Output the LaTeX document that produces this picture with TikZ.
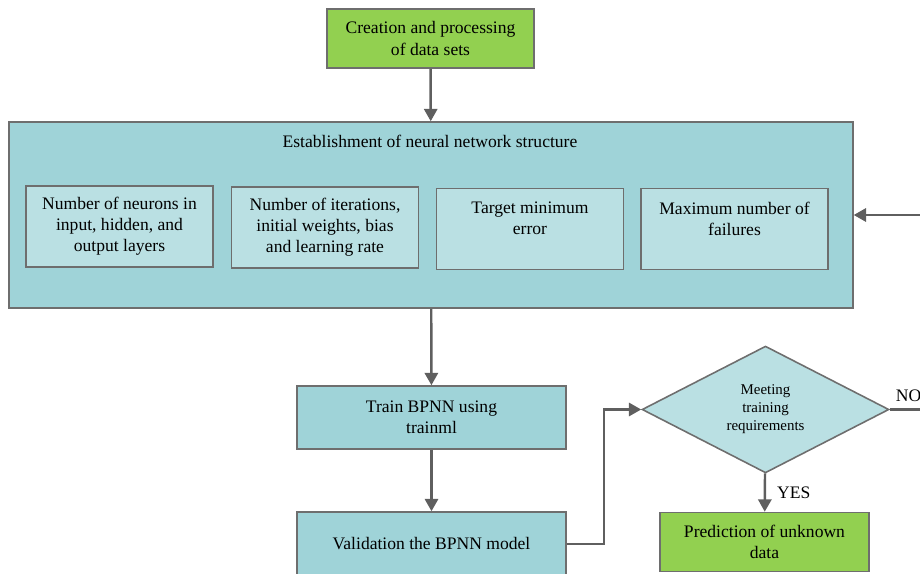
\documentclass[tikz,border=0pt]{standalone}
\usepackage{fontspec}
\setmainfont{LiberationSerif}[Extension=.ttf, UprightFont=*-Regular, BoldFont=*-Bold, ItalicFont=*-Italic]
\usepackage{tikz}
\usetikzlibrary{positioning, arrows.meta, calc, shapes.geometric}

\definecolor{tealfill}{HTML}{9FD3D8}
\definecolor{tealpale}{HTML}{BAE0E3}
\definecolor{leafgreen}{HTML}{92D050}
\definecolor{flowgray}{HTML}{5F5F5F}
\definecolor{edgegray}{HTML}{6E6E6E}

\begin{document}
\begin{tikzpicture}[x=0.02cm, y=-0.02cm,
		box/.style={draw=edgegray, line width=0.9pt, align=center, inner sep=2pt, font=\fontsize{10}{12}\selectfont},
		flow/.style={draw=flowgray, line width=1.4pt, -{Triangle[length=7pt, width=7.5pt]}}]
					\useasboundingbox (0,0) rectangle (920,574);
					\def\subw{3.74cm}
					\def\subh{1.62cm}

					\node[box, fill=leafgreen, minimum width=4.14cm, minimum height=1.18cm] (data) at (430.5,38.5) {Creation and processing\\of data sets};

					\node[box, fill=tealfill, minimum width=16.88cm, minimum height=3.72cm] (structure) at (431,215) {};
					\node[box, draw=none, anchor=center] (structure title) at (430,141) {Establishment of neural network structure};

					\node[box, fill=tealpale, minimum width=\subw, minimum height=\subh] (neurons) at (119.5,226.5) {Number of neurons in\\input, hidden, and\\output layers};
					\node[box, fill=tealpale, minimum width=\subw, minimum height=\subh] (iterations) at (325,227.5) {Number of iterations,\\initial weights, bias\\and learning rate};
					\node[box, fill=tealpale, minimum width=\subw, minimum height=\subh] (target) at (530,229) {Target minimum\\error\\\mbox{}};
					\node[box, fill=tealpale, minimum width=\subw, minimum height=\subh] (failures) at (734.5,229) {Maximum number of\\failures\\\mbox{}};

					\node[box, fill=tealfill, minimum width=5.38cm, minimum height=1.26cm] (train) at (431.5,417.5) {Train BPNN using\\trainml};
					\node[box, fill=tealfill, minimum width=5.38cm, minimum height=1.28cm] (valid) at (431.5,544) {Validation the BPNN model};

					\node[box, diamond, fill=tealpale, inner sep=0pt, minimum width=4.94cm, minimum height=2.5cm,
						font=\fontsize{8.5}{10.2}\selectfont] (meet) at (765.5,409.5) {Meeting\\training\\requirements};
					\node[box, fill=leafgreen, minimum width=4.18cm, minimum height=1.18cm] (predict) at (764.5,542) {Prediction of unknown\\data};

					\draw[flow] (data) -- (structure);
					\draw[flow] (structure) -- (train);
					\draw[flow] (train) -- (valid);
					\draw[flow] (valid.east) -- ++(37,0) |- (meet.west);
					\draw[flow] (meet) -- node[right=3pt, font=\fontsize{10}{12}\selectfont] (yes) {YES} (predict);
					\coordinate (loop back) at (950,409.5);
					\draw[flow] (meet.east) -- (loop back) |- (structure.east);
					\node[anchor=south west, font=\fontsize{10}{12}\selectfont, inner sep=1pt] (no) at ($(meet.east)+(4,-6)$) {NO};
				\end{tikzpicture}
\end{document}
